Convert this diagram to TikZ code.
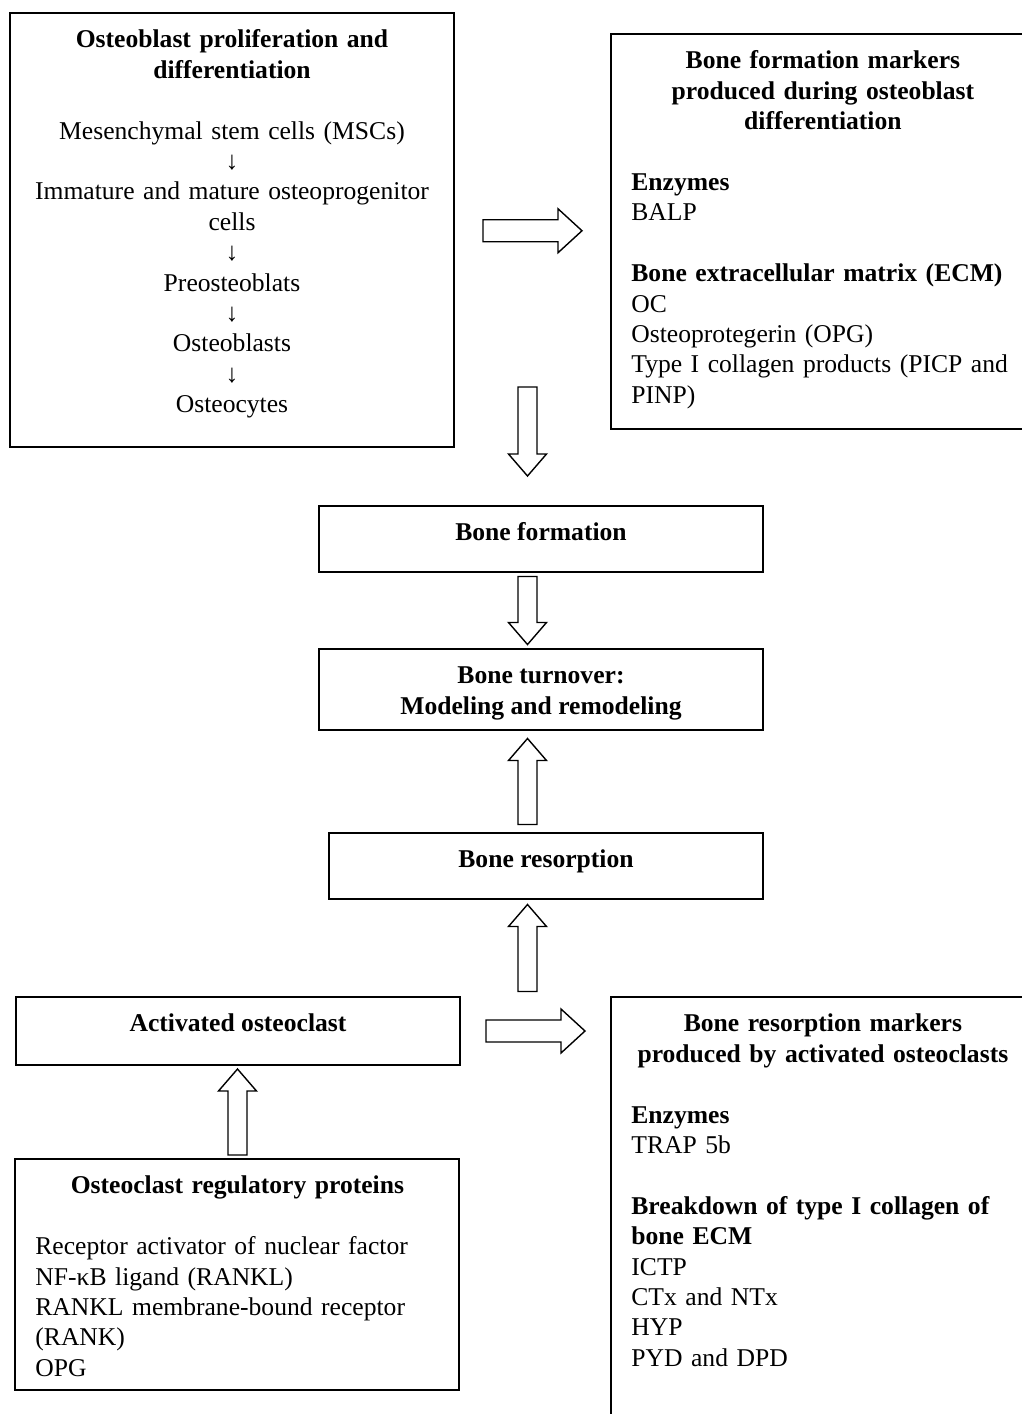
\documentclass[tikz,border=0pt]{standalone}
\usepackage{fontspec}
\setmainfont{Liberation Serif}
\usetikzlibrary{positioning,calc}
\setlength{\parindent}{0pt}

\newcommand{\bodyfont}{\fontsize{12.8pt}{15.2pt}\selectfont}

\tikzset{
    panel/.style={draw, line width=0.8pt, inner sep=0pt, outer sep=0pt},
    heading/.style={font=\bodyfont\bfseries, align=center, inner sep=0pt},
    blurb/.style={font=\bodyfont, inner sep=0pt},
    fatline/.style={draw, fill=white, line width=0.7pt, line join=miter},
    pics/fatarrow/.style n args={4}{code={
        \draw[fatline] ({-#1/2},{-#2}) -- ({#1/2-#4},{-#2}) -- ({#1/2-#4},{-#3})
            -- ({#1/2},0) -- ({#1/2-#4},{#3}) -- ({#1/2-#4},{#2}) -- ({-#1/2},{#2}) -- cycle;
    }}
}

\begin{document}
\begin{tikzpicture}[x=0.5pt, y=-0.5pt]

    % page frame (pixel grid of the figure)
    \path[fill=white, use as bounding box] (0,0) rectangle (1022,1414);
    \clip (0,0) rectangle (1022,1414);

    % Boxes
    \node[panel, minimum width=222pt, minimum height=217pt] (boxA) at (232,230) {};
    \node[panel, minimum width=215pt, minimum height=197.5pt] (boxB) at (826,231.5) {};
    \node[panel, minimum width=222pt, minimum height=33pt] (boxC) at (541,539) {};
    \node[panel, minimum width=222pt, minimum height=40.5pt] (boxD) at (541,689.5) {};
    \node[panel, minimum width=217pt, minimum height=33pt] (boxE) at (546,866) {};
    \node[panel, minimum width=222pt, minimum height=34pt] (boxF) at (238,1031) {};
    \node[panel, minimum width=222pt, minimum height=115.5pt] (boxG) at (237,1274.5) {};
    \node[panel, minimum width=215pt, minimum height=225pt] (boxH) at (826,1222) {};

    % Texts in the boxes
    \node[blurb, align=center, text width=210pt, below=6.6pt of boxA.north] (txtA) {%
        {\bfseries\strut Osteoblast proliferation and\\ differentiation}\\[15.2pt]
        Mesenchymal stem cells (MSCs)\\ ↓\\ Immature and mature osteoprogenitor\\ cells\\ ↓\\
        Preosteoblats\\ ↓\\ Osteoblasts\\ ↓\\ Osteocytes};

    \node[blurb, align=left, text width=191.5pt, below right=6.6pt and 10pt of boxB.north west] (txtB) {%
        {\centering\bfseries\strut Bone formation markers\\ produced during osteoblast\\ differentiation\par}
        \vspace{15.2pt}
        \textbf{Enzymes}\\ BALP\\[15.2pt]
        \textbf{Bone extracellular matrix (ECM)}\\ OC\\ Osteoprotegerin (OPG)\\
        Type I collagen products (PICP and\\ PINP)};

    \node[heading, below=6.6pt of boxC.north] (txtC) {\strut Bone formation};
    \node[heading, below=6.6pt of boxD.north] (txtD) {\strut Bone turnover:\\ Modeling and remodeling};
    \node[heading, below=6.6pt of boxE.north] (txtE) {\strut Bone resorption};
    \node[heading, below=6.6pt of boxF.north] (txtF) {\strut Activated osteoclast};

    \node[blurb, align=left, text width=202pt, below right=6.6pt and 10pt of boxG.north west] (txtG) {%
        {\centering\bfseries\strut Osteoclast regulatory proteins\par}
        \vspace{15.2pt}
        Receptor activator of nuclear factor\\ NF-κB ligand (RANKL)\\
        RANKL membrane-bound receptor\\ (RANK)\\ OPG};

    \node[blurb, align=left, text width=191.5pt, below right=6.6pt and 10pt of boxH.north west] (txtH) {%
        {\centering\bfseries\strut Bone resorption markers\\ produced by activated osteoclasts\par}
        \vspace{15.2pt}
        \textbf{Enzymes}\\ TRAP 5b\\[15.2pt]
        \textbf{Breakdown of type I collagen of}\\ \textbf{bone ECM}\\
        ICTP\\ CTx and NTx\\ HYP\\ PYD and DPD};

    % Block arrows
    \coordinate (spine) at (527.5,0);
    \coordinate (gapAC) at (0,431.5);
    \coordinate (gapCD) at ($(boxC.south)!0.5!(boxD.north)$);
    \coordinate (gapDE) at ($(boxD.south)!0.5!(boxE.north)$);
    \coordinate (gapEF) at ($(boxE.south)!0.5!(boxF.north)$);
    \coordinate (gapFH) at ($(boxF.east)!0.5!(boxF.east -| boxH.west)$);
    \coordinate (gapFG) at ($(boxF.south)!0.5!(boxG.north)$);

    \pic at ($(boxA.east)!0.5!(boxB.west)$) {fatarrow={99}{11}{22}{24}};
    \pic[rotate=-90] at (spine |- gapAC) {fatarrow={89}{9.5}{19}{22}};
    \pic[rotate=-90] at (spine |- gapCD) {fatarrow={68}{9.5}{19}{22}};
    \pic[rotate=90] at (spine |- gapDE) {fatarrow={86}{9.5}{19}{22}};
    \pic[rotate=90] at (spine |- gapEF) {fatarrow={87}{9.5}{19}{22}};
    \pic at (gapFH) {fatarrow={99}{11}{22}{24}};
    \pic[rotate=90] at (gapFG) {fatarrow={86}{9.5}{19}{22}};

\end{tikzpicture}
\end{document}
